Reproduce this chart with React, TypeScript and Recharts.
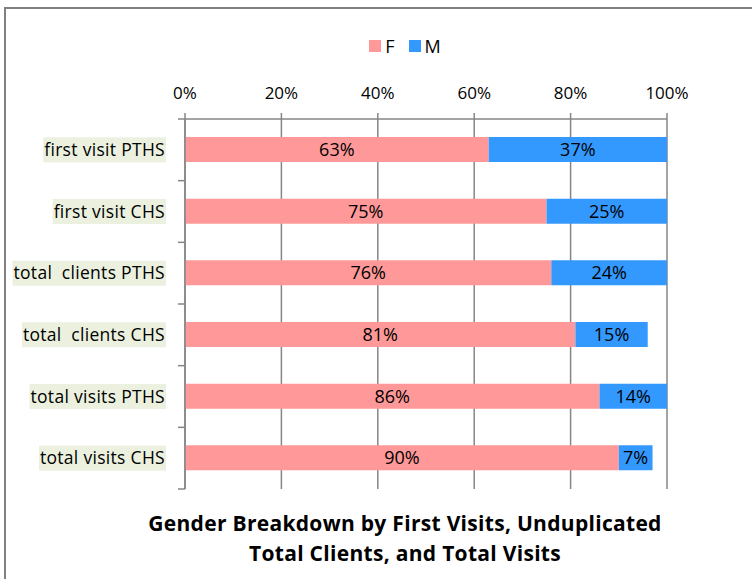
import { BarChart, Bar, XAxis, YAxis, CartesianGrid, Legend, LabelList } from "recharts";

const categories = [
  "first visit PTHS",
  "first visit CHS",
  "total  clients PTHS",
  "total  clients CHS",
  "total visits PTHS",
  "total visits CHS",
];
const femaleShare = [0.63, 0.75, 0.76, 0.81, 0.86, 0.9];
const maleShare = [0.37, 0.25, 0.24, 0.15, 0.14, 0.07];
const xTicks = [0, 0.2, 0.4, 0.6, 0.8, 1];

const FONT = "'Open Sans', Lato, sans-serif";
const AXIS_GRAY = "#868686";
const F_COLOR = "#ff9999";
const M_COLOR = "#3399ff";
const CAT_SIZE = 17.5;
const CAT_SPACING = 0.3;

const data = categories.map((name, i) => ({
  name,
  F: femaleShare[i],
  M: maleShare[i],
}));

const pct = (v: number) => `${Math.round(v * 100)}%`;

let measureCtx: CanvasRenderingContext2D | null = null;
function textWidth(text: string, font: string) {
  if (!measureCtx) measureCtx = document.createElement("canvas").getContext("2d");
  if (!measureCtx) return text.length * 8.5;
  measureCtx.font = font;
  return measureCtx.measureText(text).width;
}

function CategoryTick(props: any) {
  const { x, y, payload, index } = props;
  const half = payload?.offset ?? 31;
  const axisX = x + 8;
  const label = String(payload.value).replace(/ /g, "\u00a0");
  const w = textWidth(label, `${CAT_SIZE}px ${FONT}`) + label.length * CAT_SPACING;
  const right = axisX - 20;
  return (
    <g>
      <rect x={right - w - 1} y={y - 12.5} width={w + 2} height={25} fill="#ebf1de" />
      <text
        x={right}
        y={y}
        dy={6}
        textAnchor="end"
        fontSize={CAT_SIZE}
        fontFamily={FONT}
        letterSpacing={CAT_SPACING}
        fill="#000"
      >
        {label}
      </text>
      {index === 0 && <line x1={axisX - 7} x2={axisX} y1={y - half} y2={y - half} stroke={AXIS_GRAY} strokeWidth={1.5} />}
      <line x1={axisX - 7} x2={axisX} y1={y + half} y2={y + half} stroke={AXIS_GRAY} strokeWidth={1.5} />
    </g>
  );
}

function LegendContent() {
  const items = [
    { label: "F", color: F_COLOR },
    { label: "M", color: M_COLOR },
  ];
  return (
    <div style={{ display: "flex", justifyContent: "center", gap: 14, fontFamily: FONT, fontSize: 18, paddingRight: 40 }}>
      {items.map((it) => (
        <div key={it.label} style={{ display: "flex", alignItems: "center", gap: 4 }}>
          <span style={{ display: "inline-block", width: 12, height: 12, background: it.color }} />
          <span>{it.label}</span>
        </div>
      ))}
    </div>
  );
}

export default function App() {
  return (
    <div style={{ position: "absolute", left: 0, top: 0, width: 752, height: 579, background: "#fff", overflow: "hidden" }}>
      <div
        style={{
          position: "absolute",
          left: 4,
          top: 7,
          width: 800,
          height: 600,
          borderLeft: "2px solid #808080",
          borderTop: "2px solid #808080",
        }}
      />
      <BarChart
        width={752}
        height={579}
        data={data}
        layout="vertical"
        barSize={25}
        margin={{ top: 89, right: 85, bottom: 90, left: 0 }}
        style={{ position: "absolute", left: 0, top: 0 }}
      >
        <CartesianGrid horizontal={false} stroke={AXIS_GRAY} strokeWidth={1.5} />
        <XAxis
          type="number"
          orientation="top"
          domain={[0, 1]}
          ticks={xTicks}
          tickFormatter={pct}
          height={30}
          stroke={AXIS_GRAY}
          strokeWidth={1.5}
          tickSize={6}
          tickMargin={14}
          tick={{ fill: "#000", fontSize: 17, fontFamily: FONT }}
        />
        <YAxis
          type="category"
          dataKey="name"
          width={185}
          stroke={AXIS_GRAY}
          strokeWidth={1.5}
          tickLine={false}
          tick={<CategoryTick />}
          interval={0}
        />
        <Legend
          layout="vertical"
          align="center"
          verticalAlign="top"
          content={<LegendContent />}
          wrapperStyle={{ top: 34, left: 0, width: 850, height: 0, overflow: "visible" }}
        />
        <Bar dataKey="F" stackId="g" fill={F_COLOR} isAnimationActive={false}>
          <LabelList dataKey="F" position="center" formatter={(v: any) => pct(Number(v))} fill="#000" fontSize={18} fontFamily={FONT} />
        </Bar>
        <Bar dataKey="M" stackId="g" fill={M_COLOR} isAnimationActive={false}>
          <LabelList dataKey="M" position="center" formatter={(v: any) => pct(Number(v))} fill="#000" fontSize={18} fontFamily={FONT} />
        </Bar>
      </BarChart>
      <div
        style={{
          position: "absolute",
          left: 100,
          top: 508,
          width: 610,
          textAlign: "center",
          fontFamily: FONT,
          fontWeight: 700,
          fontSize: 21,
          letterSpacing: 0.3,
          lineHeight: "30px",
          color: "#000",
        }}
      >
        Gender Breakdown by First Visits, Unduplicated
        <br />
        Total Clients, and Total Visits
      </div>
    </div>
  );
}
